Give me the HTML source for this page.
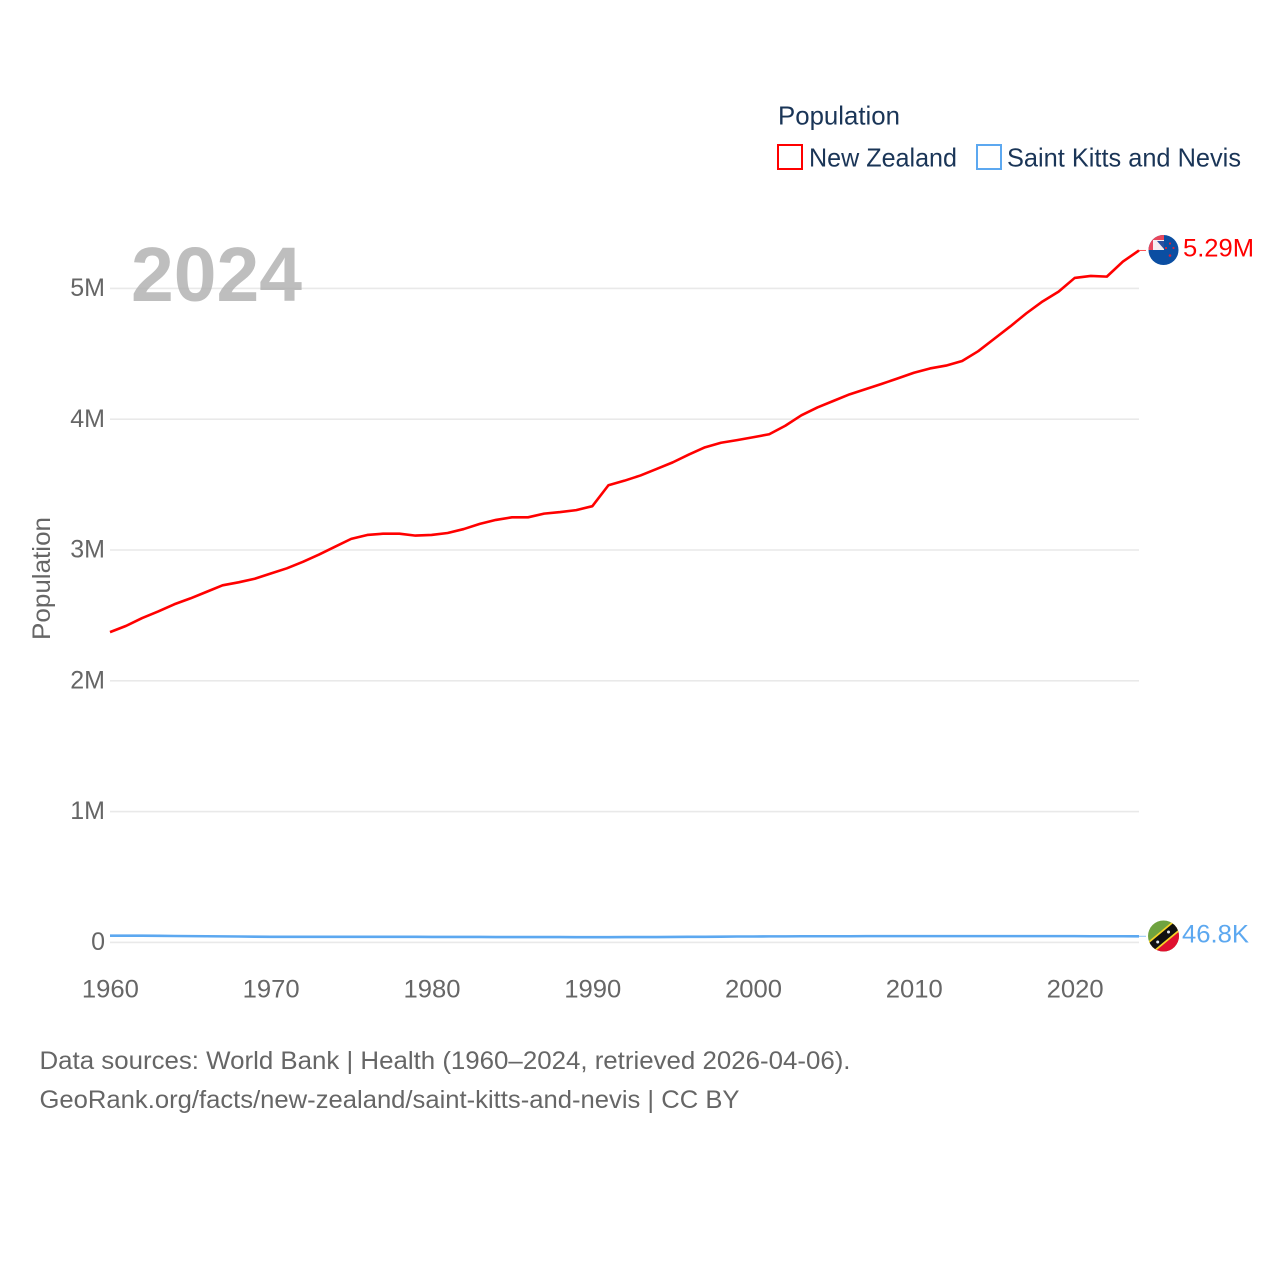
<!DOCTYPE html>
<html lang="en">
<head>
<meta charset="utf-8">
<title>Population: New Zealand vs Saint Kitts and Nevis</title>
<style>
html,body{margin:0;padding:0;background:#fff;width:1280px;height:1280px;overflow:hidden}
svg{display:block}
text{font-family:"Liberation Sans",sans-serif}
</style>
</head>
<body>
<svg id="chart" xmlns="http://www.w3.org/2000/svg" width="1280" height="1280" viewBox="0 0 1280 1280">
  <defs>
    <clipPath id="clip-nz"><circle cx="1163.500" cy="250" r="15"/></clipPath>
    <clipPath id="clip-kn"><circle cx="1163.500" cy="936" r="15.500"/></clipPath>
  </defs>
  <rect x="0" y="0" width="1280" height="1280" fill="#fff"/>
  <g id="grid"></g>
  <g id="yticks"></g>
  <g id="xticks"></g>
  <text x="131" y="301" font-size="77" font-weight="700" fill="#a8a8a8" fill-opacity="0.75" textLength="171" lengthAdjust="spacingAndGlyphs">2024</text>
  <text transform="translate(50,578.500) rotate(-90)" text-anchor="middle" font-size="25" fill="#666" textLength="123" lengthAdjust="spacingAndGlyphs">Population</text>
  <g id="series"></g>

  <g>
    <text x="778" y="124.500" font-size="26" fill="#1a3557" textLength="122" lengthAdjust="spacingAndGlyphs">Population</text>
    <g>
      <rect x="778" y="145" width="24" height="24" fill="#fff" stroke="#ff0000" stroke-width="2"/>
      <text x="809" y="166.500" font-size="26" fill="#1a3557" textLength="148" lengthAdjust="spacingAndGlyphs">New Zealand</text>
    </g>
    <g>
      <rect x="977" y="145" width="24" height="24" fill="#fff" stroke="#5ca8f0" stroke-width="2"/>
      <text x="1007" y="166.500" font-size="26" fill="#1a3557" textLength="234" lengthAdjust="spacingAndGlyphs">Saint Kitts and Nevis</text>
    </g>
  </g>

  <g clip-path="url(#clip-nz)">
    <rect x="1148" y="234" width="31" height="32" fill="#0b4ea2"/>
    <rect x="1148" y="234" width="16" height="16" fill="#e8475c"/>
    <rect x="1153" y="240" width="11" height="10" fill="#f6eef0"/>
    <path d="M1157 241H1164V249Z" fill="#2c4f9e"/>
    <circle cx="1170" cy="243.500" r="1.100" fill="#d8213c"/>
    <circle cx="1173.500" cy="248" r="1.100" fill="#d8213c"/>
    <circle cx="1166" cy="248" r="1.100" fill="#d8213c"/>
    <circle cx="1170" cy="255.500" r="1.300" fill="#d8213c"/>
  </g>
  <text x="1183" y="256.500" font-size="25" fill="#ff0000" textLength="71" lengthAdjust="spacingAndGlyphs">5.29M</text>

  <g clip-path="url(#clip-kn)">
    <rect x="1148" y="920" width="31" height="32" fill="#6fa33f"/>
    <path d="M1179 920V952H1148Z" fill="#e0102f"/>
    <path d="M1145 952L1180 923" stroke="#f5d327" stroke-width="12"/>
    <path d="M1145 952L1180 923" stroke="#111" stroke-width="8.500"/>
    <circle cx="1157.700" cy="942" r="1.500" fill="#dfe7ee"/>
    <circle cx="1168.500" cy="932" r="1.500" fill="#dfe7ee"/>
  </g>
  <text x="1182" y="942.500" font-size="25" fill="#5ca8f0" textLength="67" lengthAdjust="spacingAndGlyphs">46.8K</text>

  <g>
    <text x="39.500" y="1069" font-size="25" fill="#666" textLength="811" lengthAdjust="spacingAndGlyphs">Data sources: World Bank | Health (1960–2024, retrieved 2026-04-06).</text>
    <text x="39.500" y="1108" font-size="25" fill="#666" textLength="700" lengthAdjust="spacingAndGlyphs">GeoRank.org/facts/new-zealand/saint-kitts-and-nevis | CC BY</text>
  </g>
</svg>
<script>
const years = [1960,1961,1962,1963,1964,1965,1966,1967,1968,1969,1970,1971,1972,1973,1974,1975,1976,1977,1978,1979,1980,1981,1982,1983,1984,1985,1986,1987,1988,1989,1990,1991,1992,1993,1994,1995,1996,1997,1998,1999,2000,2001,2002,2003,2004,2005,2006,2007,2008,2009,2010,2011,2012,2013,2014,2015,2016,2017,2018,2019,2020,2021,2022,2023,2024];
const newZealand = [2.372,2.42,2.48,2.53,2.585,2.63,2.68,2.73,2.753,2.78,2.82,2.86,2.91,2.965,3.025,3.085,3.115,3.125,3.125,3.11,3.115,3.13,3.16,3.2,3.23,3.25,3.25,3.278,3.29,3.305,3.335,3.495,3.53,3.57,3.62,3.67,3.73,3.785,3.82,3.84,3.862,3.885,3.95,4.03,4.09,4.14,4.19,4.23,4.27,4.312,4.355,4.388,4.41,4.445,4.52,4.615,4.71,4.81,4.9,4.975,5.08,5.095,5.09,5.205,5.29];
const saintKitts = [0.051,0.051,0.051,0.05,0.049,0.048,0.047,0.046,0.045,0.044,0.043,0.043,0.043,0.043,0.043,0.043,0.043,0.043,0.043,0.043,0.042,0.042,0.042,0.042,0.041,0.041,0.041,0.041,0.041,0.04,0.04,0.04,0.041,0.041,0.041,0.042,0.043,0.043,0.044,0.045,0.045,0.046,0.046,0.047,0.047,0.047,0.047,0.048,0.048,0.048,0.048,0.048,0.048,0.048,0.048,0.048,0.048,0.048,0.048,0.048,0.048,0.047,0.047,0.047,0.0468];
const yTickValues = [0,1,2,3,4,5];
const yTickLabels = ["0","1M","2M","3M","4M","5M"];
const xTickValues = [1960,1970,1980,1990,2000,2010,2020];

const SVG_NS = "http://www.w3.org/2000/svg";
const xScale = year => 110 + (year - 1960) * (1139 - 110) / (2024 - 1960);
const yScale = value => 942.4 - value * (942.4 - 288.4) / 5;

function make(tag, attrs, parent) {
  const el = document.createElementNS(SVG_NS, tag);
  for (const k in attrs) el.setAttribute(k, attrs[k]);
  parent.appendChild(el);
  return el;
}

const gridGroup = document.getElementById("grid");
const yGroup = document.getElementById("yticks");
const xGroup = document.getElementById("xticks");
const seriesGroup = document.getElementById("series");

yTickValues.forEach((v, i) => {
  const line = make("line", {x1: 110, x2: 1139, y1: yScale(v), y2: yScale(v), stroke: "#e9e9e9", "stroke-width": 1.6}, gridGroup);
  
  
  const label = make("text", {x: 105, y: yScale(v) + 7.6, "text-anchor": "end", "font-size": 25, fill: "#666"}, yGroup);
  
  
  label.textContent = yTickLabels[i];
});

xTickValues.forEach(v => {
  const label = make("text", {x: xScale(v) + 0.4, y: 997.4, "text-anchor": "middle", "font-size": 25, fill: "#666", textLength: 57, lengthAdjust: "spacingAndGlyphs"}, xGroup);
  
  
  label.textContent = String(v);
});

function linePoints(values) {
  return values.map((v, i) => xScale(years[i]).toFixed(2) + "," + yScale(v).toFixed(2)).join(" ");
}

const lineKn = make("polyline", {points: linePoints(saintKitts), fill: "none", stroke: "#5ca8f0", "stroke-width": 2.6, "stroke-linejoin": "round"}, seriesGroup);



const lineNz = make("polyline", {points: linePoints(newZealand), fill: "none", stroke: "#ff0000", "stroke-width": 2.6, "stroke-linejoin": "round"}, seriesGroup);



const lastIndex = years.length - 1;
const connectorNz = make("line", {x1: xScale(years[lastIndex]), x2: 1146, y1: yScale(newZealand[lastIndex]), y2: yScale(newZealand[lastIndex]), stroke: "#ff0000", "stroke-width": 1, "stroke-opacity": 0.7}, seriesGroup);



const connectorKn = make("line", {x1: xScale(years[lastIndex]), x2: 1146, y1: yScale(saintKitts[lastIndex]), y2: yScale(saintKitts[lastIndex]), stroke: "#5ca8f0", "stroke-width": 1, "stroke-opacity": 0.7}, seriesGroup);


</script>
</body>
</html>
